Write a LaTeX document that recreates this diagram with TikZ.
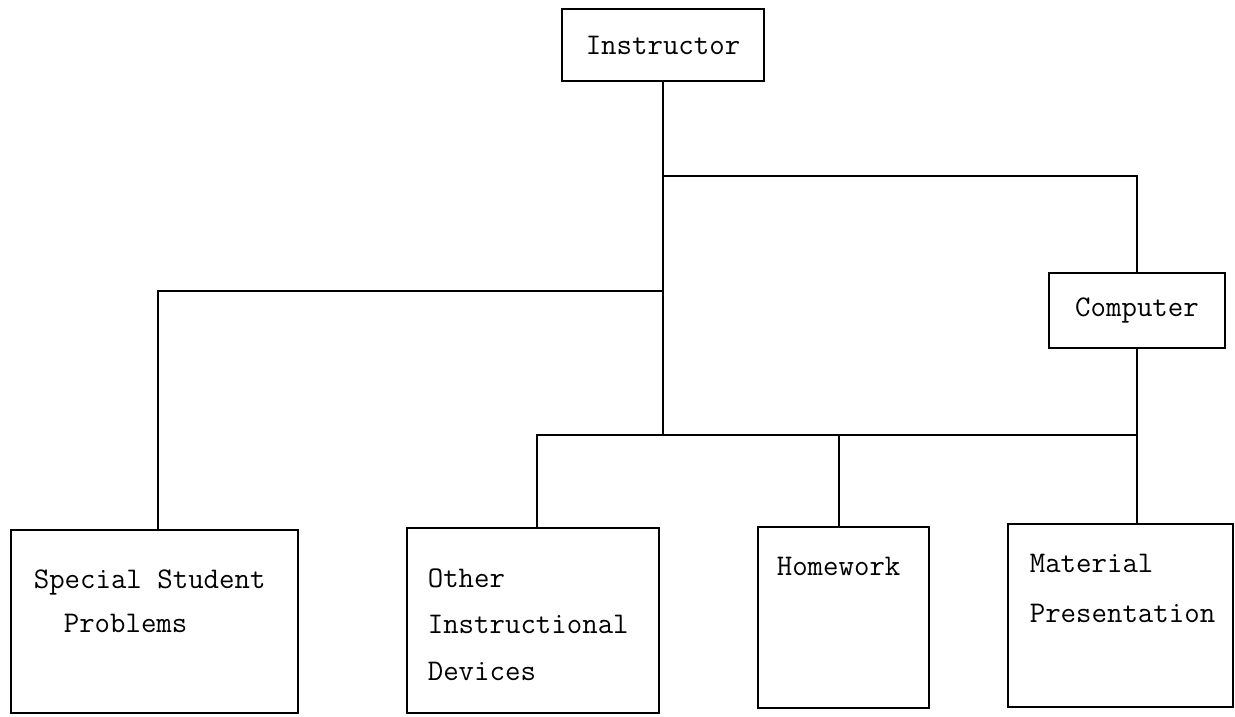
\documentclass[tikz,border=0pt]{standalone}
\usetikzlibrary{calc}
\begin{document}
\begin{tikzpicture}[x=1pt,y=-1pt,
  line width=1.6pt,
  box/.style={draw=black, rectangle, inner sep=0pt, font=\ttfamily\fontsize{30}{36}\selectfont},
  txt/.style={anchor=base west, inner sep=0pt, font=\ttfamily\fontsize{30}{36}\selectfont},
  link/.style={draw=black, line width=1.6pt}]
\useasboundingbox (0,0) rectangle (1235,716);

% top level
\node[box, minimum width=202pt, minimum height=72pt] (inst) at (663,45) {Instructor};
\node[box, minimum width=176pt, minimum height=75pt] (comp) at (1137,310.5) {Computer};

% bottom row boxes
\node[box, minimum width=287pt, minimum height=183pt] (ssp) at (154.5,621.5) {};
\node[box, minimum width=252pt, minimum height=185pt] (oid) at (533,620.5) {};
\node[box, minimum width=171pt, minimum height=181pt] (hw)  at (843.5,617.5) {};
\node[box, minimum width=225pt, minimum height=183pt] (mp)  at (1120.5,615.5) {};

% box captions
\node[txt] (ssp1) at (33,588) {Special Student};
\node[txt] (ssp2) at (63,632) {Problems};
\node[txt] (oid1) at (427,587) {Other};
\node[txt] (oid2) at (427,633) {Instructional};
\node[txt] (oid3) at (427,680) {Devices};
\node[txt] (hw1)  at (776,575) {Homework};
\node[txt] (mp1)  at (1029,572) {Material};
\node[txt] (mp2)  at (1029,622) {Presentation};

% junctions on the main trunk
\coordinate (jtop)  at (663,176);
\coordinate (jleft) at (663,291);
\coordinate (jbot)  at (663,435);
\coordinate (jcomp) at (1137,435);

% connectors
\draw[link] (inst.south) -- (jbot);
\draw[link] (jtop) -| (comp.north);
\draw[link] (jleft) -| ([xshift=3.5pt]ssp.north);
\draw[link] (comp.south) -- (jcomp);
\draw[link] (jcomp) -- (mp.north -| jcomp);
\draw[link] (jcomp) -| ([xshift=4pt]oid.north);
\draw[link] (jcomp -| hw.north) ++(-4.5pt,0) coordinate (jhw) -- ([xshift=-4.5pt]hw.north);
\end{tikzpicture}
\end{document}
